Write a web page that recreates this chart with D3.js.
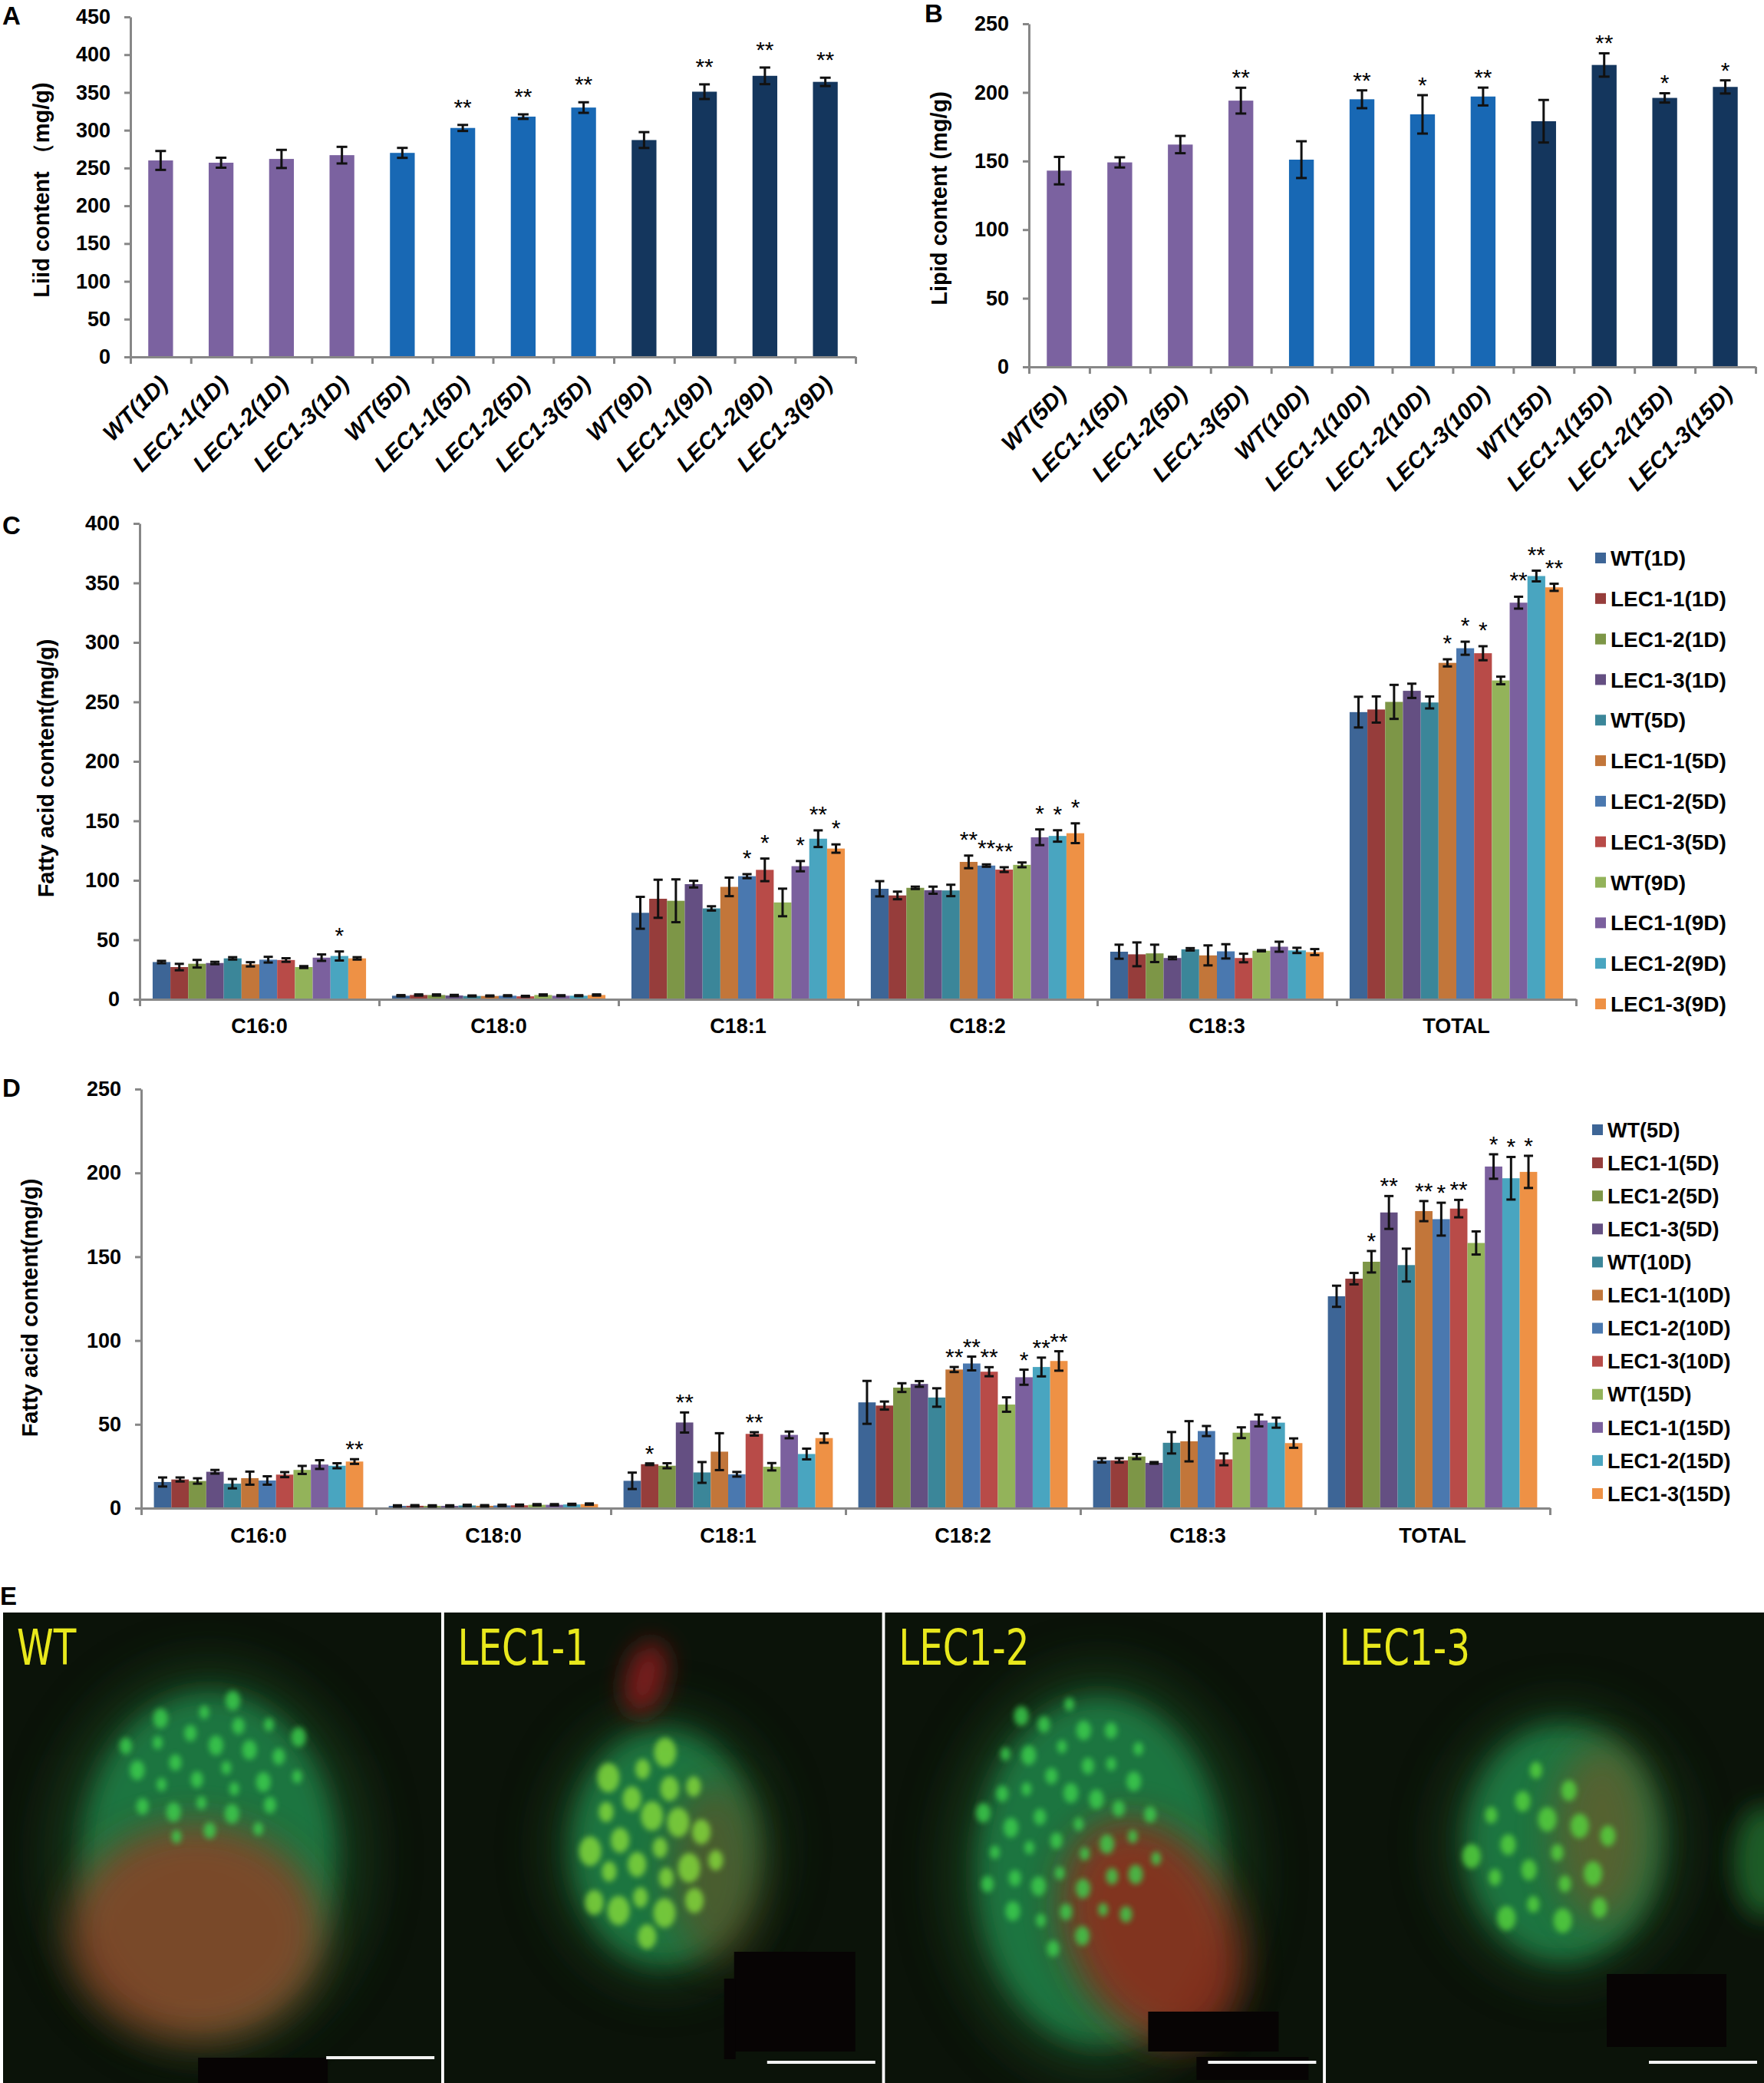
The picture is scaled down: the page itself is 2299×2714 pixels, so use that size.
<!DOCTYPE html>
<html>
<head>
<meta charset="utf-8">
<script src="https://cdn.jsdelivr.net/npm/d3@7"></script>
<style>
html, body { margin: 0; padding: 0; background: #fff; }
svg { display: block; }
</style>
</head>
<body>
<div id="fig"></div>
<script>
// ---------- data ----------
const barLabelsA = ["WT(1D)", "LEC1-1(1D)", "LEC1-2(1D)", "LEC1-3(1D)", "WT(5D)", "LEC1-1(5D)",
  "LEC1-2(5D)", "LEC1-3(5D)", "WT(9D)", "LEC1-1(9D)", "LEC1-2(9D)", "LEC1-3(9D)"];
const lipidA = [260, 257, 262, 267, 270, 303, 318, 330, 287, 351, 372, 364];
const lipidErrA = [12.5, 6.6, 12, 11, 6.6, 4, 3, 7, 10.5, 9.7, 11, 5.5];
const starsA = ["", "", "", "", "", "**", "**", "**", "", "**", "**", "**"];
const yTicksA = [0, 50, 100, 150, 200, 250, 300, 350, 400, 450];

const barLabelsB = ["WT(5D)", "LEC1-1(5D)", "LEC1-2(5D)", "LEC1-3(5D)", "WT(10D)", "LEC1-1(10D)",
  "LEC1-2(10D)", "LEC1-3(10D)", "WT(15D)", "LEC1-1(15D)", "LEC1-2(15D)", "LEC1-3(15D)"];
const lipidB = [143, 149, 162, 194, 151, 195, 184, 197, 179, 220, 196, 204];
const lipidErrB = [10, 3.7, 6.3, 9.4, 13.4, 6.5, 14, 6.5, 15.5, 8.5, 3.4, 4.8];
const starsB = ["", "", "", "**", "", "**", "*", "**", "", "**", "*", "*"];
const yTicksB = [0, 50, 100, 150, 200, 250];

const acids = ["C16:0", "C18:0", "C18:1", "C18:2", "C18:3", "TOTAL"];

const seriesC = ["WT(1D)", "LEC1-1(1D)", "LEC1-2(1D)", "LEC1-3(1D)", "WT(5D)", "LEC1-1(5D)",
  "LEC1-2(5D)", "LEC1-3(5D)", "WT(9D)", "LEC1-1(9D)", "LEC1-2(9D)", "LEC1-3(9D)"];
// one row per fatty acid, one column per series
const fattyC = [
  [31.3, 27.1, 29.9, 30.5, 34.4, 29.4, 33.3, 33.0, 27.1, 35.0, 36.4, 34.4],
  [3.0, 3.6, 3.6, 3.2, 2.8, 2.8, 3.0, 2.5, 3.6, 3.0, 3.0, 3.6],
  [72.7, 84.5, 82.8, 96.8, 76.4, 94.5, 103.5, 108.8, 81.4, 111.9, 135, 126.7],
  [92.9, 87.3, 93.7, 91.7, 91.5, 115.5, 112.4, 109, 113, 136.2, 137.3, 139.6],
  [40, 37.8, 38.6, 34.7, 42, 36.9, 40.3, 34.7, 40.8, 44.2, 41.1, 39.7],
  [241.4, 243.6, 250, 259.3, 249.5, 282.8, 295.1, 290.9, 268, 333.4, 355.8, 346.3]
];
const fattyErrC = [
  [1, 2.7, 3.2, 1, 1, 1.8, 2.4, 1.5, 0.8, 2.7, 3.8, 1],
  [0.5, 0.5, 0.5, 0.5, 0.4, 0.4, 0.4, 0.4, 0.5, 0.4, 0.4, 0.5],
  [13.4, 16, 18, 2.8, 1.8, 7.8, 1.7, 9.5, 11.6, 4.3, 7, 3.5],
  [6.4, 3.2, 1, 3, 4.8, 5.3, 1, 2, 2, 6.6, 4.8, 8.3],
  [5.9, 10, 7.3, 1, 1, 8.4, 6, 3.6, 0.5, 4.2, 2.2, 2.5],
  [12.9, 11, 14.3, 6, 5, 3, 5.5, 5.9, 3.2, 5, 4.5, 3]
];
const starsC = [
  ["", "", "", "", "", "", "", "", "", "", "*", ""],
  ["", "", "", "", "", "", "", "", "", "", "", ""],
  ["", "", "", "", "", "", "*", "*", "", "*", "**", "*"],
  ["", "", "", "", "", "**", "**", "**", "", "*", "*", "*"],
  ["", "", "", "", "", "", "", "", "", "", "", ""],
  ["", "", "", "", "", "*", "*", "*", "", "**", "**", "**"]
];
const yTicksC = [0, 50, 100, 150, 200, 250, 300, 350, 400];

const seriesD = ["WT(5D)", "LEC1-1(5D)", "LEC1-2(5D)", "LEC1-3(5D)", "WT(10D)", "LEC1-1(10D)",
  "LEC1-2(10D)", "LEC1-3(10D)", "WT(15D)", "LEC1-1(15D)", "LEC1-2(15D)", "LEC1-3(15D)"];
const fattyD = [
  [15.6, 17.1, 16.2, 21.7, 14.6, 17.9, 16.5, 20, 22.8, 26, 25.3, 27.8],
  [1.3, 1.4, 1.3, 1.3, 1.6, 1.4, 1.6, 1.7, 2.0, 2.0, 2.2, 2.4],
  [16.3, 26.2, 25.3, 51.1, 21.3, 33.7, 20.2, 44.3, 24.7, 43.7, 32.3, 41.8],
  [63.1, 61.2, 71.9, 74.1, 66, 82.7, 86.3, 81.4, 61.8, 78.1, 84.2, 87.8],
  [28.5, 28.5, 30.8, 27, 39, 39.9, 46, 29.1, 45, 52.3, 51, 38.8],
  [126.4, 136.9, 147, 176.4, 145, 177.2, 172.4, 178.7, 158.2, 203.8, 196.8, 200.6]
];
const fattyErrD = [
  [2.7, 1.2, 1.6, 1.1, 2.8, 3.9, 2.5, 1.5, 2.4, 2.6, 1.5, 1.4],
  [0.4, 0.4, 0.4, 0.4, 0.4, 0.4, 0.4, 0.4, 0.4, 0.4, 0.4, 0.4],
  [4.9, 0.5, 1.5, 6, 6.2, 11, 1.4, 1, 2.2, 2, 3.2, 2.8],
  [12.8, 2.4, 2.6, 1.7, 5.5, 1.5, 4.1, 2.7, 4.3, 4.5, 5.6, 5.8],
  [1.3, 1.3, 1.5, 0.5, 6.4, 12, 3, 3.5, 3.2, 3.5, 3, 2.8],
  [6.3, 3.4, 6.4, 9.8, 9.8, 6, 9.8, 5.2, 6.9, 7.3, 12.7, 9.6]
];
const starsD = [
  ["", "", "", "", "", "", "", "", "", "", "", "**"],
  ["", "", "", "", "", "", "", "", "", "", "", ""],
  ["", "*", "", "**", "", "", "", "**", "", "", "", ""],
  ["", "", "", "", "", "**", "**", "**", "", "*", "**", "**"],
  ["", "", "", "", "", "", "", "", "", "", "", ""],
  ["", "", "*", "**", "", "**", "*", "**", "", "*", "*", "*"]
];
const yTicksD = [0, 50, 100, 150, 200, 250];

const photoLabels = ["WT", "LEC1-1", "LEC1-2", "LEC1-3"];

// ---------- styles ----------
const groupColors = ["#7B62A0", "#1868B4", "#14365D"];
const seriesColors = ["#3D6596", "#963D3B", "#7D9647", "#644F82", "#3B8699", "#C2763A",
  "#4A78AF", "#B84B48", "#93B35A", "#7B609E", "#49A5C0", "#EE9145"];
const axisGrey = "#878787";
const font = "'Liberation Sans', Arial, Helvetica, sans-serif";

const svg = d3.select("#fig").append("svg")
  .attr("width", 2299)
  .attr("height", 2714)
  .attr("font-family", font);

function styleAxis(sel) {
  sel.attr("font-family", null).attr("font-size", null);
  sel.select(".domain").attr("stroke", axisGrey).attr("stroke-width", 3);
  sel.selectAll(".tick line").attr("stroke", axisGrey).attr("stroke-width", 3);
  sel.selectAll(".tick text")
    .attr("fill", "#000")
    .attr("font-size", 27)
    .attr("font-weight", "bold");
}

function errorBars(g, data, cx, y, capW) {
  const eg = g.append("g").attr("stroke", "#111").attr("stroke-width", 3);
  data.forEach(d => {
    const x = cx(d), top = y(d.v + d.e), bot = y(d.v - d.e);
    eg.append("line").attr("x1", x).attr("x2", x).attr("y1", top).attr("y2", bot);
    eg.append("line").attr("x1", x - capW / 2).attr("x2", x + capW / 2).attr("y1", top).attr("y2", top);
    eg.append("line").attr("x1", x - capW / 2).attr("x2", x + capW / 2).attr("y1", bot).attr("y2", bot);
  });
}

function stars(g, data, cx, y, gap) {
  g.selectAll("text.star").data(data.filter(d => d.st)).join("text")
    .attr("class", "star")
    .attr("x", d => cx(d))
    .attr("y", d => y(d.v + d.e) - gap + 13)
    .attr("text-anchor", "middle")
    .attr("font-size", 30)
    .text(d => d.st);
}

function yTitle(g, text, x, cy) {
  g.append("text")
    .attr("transform", `translate(${x},${cy}) rotate(-90)`)
    .attr("text-anchor", "middle")
    .attr("dy", "0.35em")
    .attr("font-size", 29)
    .attr("font-weight", "bold")
    .text(text);
}

function panelLetter(t, x, y) {
  svg.append("text").attr("x", x).attr("y", y)
    .attr("font-size", 33).attr("font-weight", "bold").text(t);
}

// ---------- A and B: single bars ----------
function drawSimple(c) {
  const g = svg.append("g");
  const x = d3.scaleBand().domain(c.labels).range([c.x0, c.x1]).paddingInner(0.59).paddingOuter(0.295);
  const y = d3.scaleLinear().domain([0, c.max]).range([c.yBase, c.yTop]);
  const xb = d3.scaleLinear().domain([0, c.labels.length]).range([c.x0, c.x1]);

  const data = c.labels.map((l, i) => ({ l, i, v: c.values[i], e: c.errs[i], st: c.stars[i] }));
  const cx = d => x(d.l) + x.bandwidth() / 2;

  g.selectAll("rect.bar").data(data).join("rect")
    .attr("class", "bar")
    .attr("x", d => x(d.l))
    .attr("width", x.bandwidth())
    .attr("y", d => y(d.v))
    .attr("height", d => c.yBase - y(d.v))
    .attr("fill", d => groupColors[Math.floor(d.i / 4)]);

  g.append("g").attr("transform", `translate(0,${c.yBase})`)
    .call(d3.axisBottom(xb).tickValues(d3.range(c.labels.length + 1)).tickSize(9).tickSizeOuter(0).tickFormat(""))
    .call(styleAxis);
  g.append("g").attr("transform", `translate(${c.x0},0)`)
    .call(d3.axisLeft(y).tickValues(c.ticks).tickSize(8).tickSizeOuter(0).tickPadding(18))
    .call(styleAxis);

  errorBars(g, data, cx, y, 14);
  stars(g, data, cx, y, c.starGap);

  g.selectAll("text.xl").data(data).join("text")
    .attr("class", "xl")
    .attr("transform", d => `translate(${cx(d) - 4},${c.yBase + 22}) rotate(-45)`)
    .attr("text-anchor", "end")
    .attr("dy", "0.72em")
    .attr("font-size", 30)
    .attr("font-weight", "bold")
    .attr("font-style", "italic")
    .text(d => d.l);

  yTitle(g, c.title, c.titleX, (c.yTop + c.yBase) / 2 + 4);
}

drawSimple({
  labels: barLabelsA, values: lipidA, errs: lipidErrA, stars: starsA, ticks: yTicksA, max: 450,
  x0: 170, x1: 1115, yTop: 22, yBase: 465, starGap: 26,
  title: "Liid content （mg/g)", titleX: 54
});
drawSimple({
  labels: barLabelsB, values: lipidB, errs: lipidErrB, stars: starsB, ticks: yTicksB, max: 250,
  x0: 1341, x1: 2288, yTop: 31, yBase: 478, starGap: 16,
  title: "Lipid content (mg/g)", titleX: 1224
});
panelLetter("A", 3, 32);
panelLetter("B", 1205, 29);

// ---------- C and D: grouped bars ----------
function drawGrouped(c) {
  const g = svg.append("g");
  const x0 = d3.scaleBand().domain(acids).range([c.x0, c.x1]);
  const x1 = d3.scaleBand().domain(c.series).range([0, x0.bandwidth()]).paddingOuter(0.73);
  const y = d3.scaleLinear().domain([0, c.max]).range([c.yBase, c.yTop]);
  const xb = d3.scaleLinear().domain([0, acids.length]).range([c.x0, c.x1]);

  const data = acids.flatMap((a, ai) => c.series.map((s, si) => ({
    a, s, si, v: c.values[ai][si], e: c.errs[ai][si], st: c.stars[ai][si]
  })));
  const cx = d => x0(d.a) + x1(d.s) + x1.bandwidth() / 2;

  g.selectAll("rect.bar").data(data).join("rect")
    .attr("class", "bar")
    .attr("x", d => x0(d.a) + x1(d.s))
    .attr("width", x1.bandwidth())
    .attr("y", d => y(d.v))
    .attr("height", d => c.yBase - y(d.v))
    .attr("fill", d => seriesColors[d.si]);

  g.append("g").attr("transform", `translate(0,${c.yBase})`)
    .call(d3.axisBottom(xb).tickValues(d3.range(acids.length + 1)).tickSize(9).tickSizeOuter(0).tickFormat(""))
    .call(styleAxis);
  g.append("g").attr("transform", `translate(${c.x0},0)`)
    .call(d3.axisLeft(y).tickValues(c.ticks).tickSize(8).tickSizeOuter(0).tickPadding(18))
    .call(styleAxis);

  errorBars(g, data, cx, y, 12);
  stars(g, data, cx, y, c.starGap);

  g.selectAll("text.cat").data(acids).join("text")
    .attr("class", "cat")
    .attr("x", a => x0(a) + x0.bandwidth() / 2)
    .attr("y", c.catY)
    .attr("text-anchor", "middle")
    .attr("font-size", 27)
    .attr("font-weight", "bold")
    .text(a => a);

  const ly = d3.scalePoint().domain(c.series).range(c.legendY);
  const lg = g.append("g");
  lg.selectAll("rect").data(c.series).join("rect")
    .attr("x", c.legendX)
    .attr("y", s => ly(s) - 7)
    .attr("width", 14)
    .attr("height", 14)
    .attr("fill", (s, i) => seriesColors[i]);
  lg.selectAll("text").data(c.series).join("text")
    .attr("x", c.legendX + 20)
    .attr("y", s => ly(s))
    .attr("dy", "0.36em")
    .attr("font-size", c.legendFont)
    .attr("font-weight", "bold")
    .text(s => s);

  yTitle(g, "Fatty acid content(mg/g)", c.titleX, c.titleY);
}

drawGrouped({
  series: seriesC, values: fattyC, errs: fattyErrC, stars: starsC, ticks: yTicksC, max: 400,
  x0: 182, x1: 2054, yTop: 682, yBase: 1302, starGap: 24, catY: 1346,
  legendX: 2079, legendY: [727, 1308], legendFont: 28,
  titleX: 60, titleY: 1001
});
drawGrouped({
  series: seriesD, values: fattyD, errs: fattyErrD, stars: starsD, ticks: yTicksD, max: 250,
  x0: 184, x1: 2020, yTop: 1419, yBase: 1965, starGap: 16, catY: 2010,
  legendX: 2075, legendY: [1472, 1946], legendFont: 27,
  titleX: 39, titleY: 1704
});
panelLetter("C", 3, 696);
panelLetter("D", 3, 1429);

// ---------- E: fluorescence micrographs (approximated) ----------
panelLetter("E", 0, 2091);

const defs = svg.append("defs");
[["blurBig", 30], ["blurMid", 16], ["blurRed", 24], ["blurSmall", 3.5]].forEach(([id, s]) => {
  defs.append("filter").attr("id", id)
    .attr("x", "-60%").attr("y", "-60%").attr("width", "220%").attr("height", "220%")
    .append("feGaussianBlur").attr("stdDeviation", s);
});

// relative geometry of each imaged cell (fractions of the photo panel)
const cells = [
  { body: [0.47, 0.52, 0.29, 0.35], tint: [[0.44, 0.68, 0.29, 0.23, 0, "#8a4226", 0.85]],
    drops: [0.48, 0.33, 0.22, 0.16, 28, 8, "#3ed24e"], extra: [] },
  { body: [0.50, 0.50, 0.21, 0.25], tint: [[0.62, 0.55, 0.10, 0.19, 0, "#6e4a22", 0.55]],
    drops: [0.47, 0.50, 0.16, 0.21, 24, 12, "#86dc3a"],
    extra: [[0.46, 0.14, 0.045, 0.08, 15, "#7e1d1d"]] },
  { body: [0.49, 0.55, 0.28, 0.37], tint: [[0.61, 0.68, 0.19, 0.25, -25, "#8c2f1f", 0.9]],
    drops: [0.42, 0.45, 0.21, 0.28, 44, 8, "#3ed24e"], extra: [] },
  { body: [0.54, 0.49, 0.22, 0.25], tint: [[0.63, 0.47, 0.11, 0.19, 0, "#6d5a2b", 0.7]],
    drops: [0.50, 0.51, 0.17, 0.19, 18, 10, "#56d63c"],
    extra: [[1.0, 0.53, 0.07, 0.12, 0, "#1a5c28"]] }
];
// masked (blacked-out) areas relative to panel right/bottom edge, in px
const masks = [
  [[-317, -33, 169, 33]],
  [[-193, -171, 158, 130], [-206, -136, 15, 105]],
  [[-228, -93, 170, 52], [-165, -34, 146, 30]],
  [[-205, -142, 156, 95]]
];

const photoX = d3.scaleBand().domain(photoLabels).range([4, 2299]).paddingInner(0.006);
const photoY = d3.scaleLinear().domain([0, 1]).range([2101, 2714]);
const ph = photoY(1) - photoY(0);

photoLabels.forEach((lab, k) => {
  const px = photoX(lab), pw = photoX.bandwidth();
  const fx = d3.scaleLinear().domain([0, 1]).range([px, px + pw]);
  const cell = cells[k];
  defs.append("clipPath").attr("id", "clip" + k)
    .append("rect").attr("x", px).attr("y", photoY(0)).attr("width", pw).attr("height", ph);
  const g = svg.append("g").attr("clip-path", `url(#clip${k})`);
  g.append("rect").attr("x", px).attr("y", photoY(0)).attr("width", pw).attr("height", ph).attr("fill", "#0b1309");

  const [bx, by, brx, bry] = cell.body;
  g.append("ellipse")
    .attr("cx", fx(bx)).attr("cy", photoY(by)).attr("rx", brx * pw * 1.3).attr("ry", bry * ph * 1.2)
    .attr("fill", "#1a4a22").attr("opacity", 0.55).attr("filter", "url(#blurBig)");
  g.append("ellipse")
    .attr("cx", fx(bx)).attr("cy", photoY(by)).attr("rx", brx * pw).attr("ry", bry * ph)
    .attr("fill", "#1d7440").attr("filter", "url(#blurMid)");
  cell.tint.forEach(([tx, ty, trx, tr_y, rot, col, op]) => {
    g.append("ellipse")
      .attr("transform", `rotate(${rot},${fx(tx)},${photoY(ty)})`)
      .attr("cx", fx(tx)).attr("cy", photoY(ty)).attr("rx", trx * pw).attr("ry", tr_y * ph)
      .attr("fill", col).attr("opacity", op).attr("filter", "url(#blurRed)");
  });
  cell.extra.forEach(([tx, ty, trx, tr_y, rot, col]) => {
    g.append("ellipse")
      .attr("transform", `rotate(${rot},${fx(tx)},${photoY(ty)})`)
      .attr("cx", fx(tx)).attr("cy", photoY(ty)).attr("rx", trx * pw).attr("ry", tr_y * ph)
      .attr("fill", col).attr("filter", "url(#blurMid)");
  });
  // lipid droplets laid out on a sunflower spiral inside the green region
  const [dx, dy, drx, dry, n, size, dcol] = cell.drops;
  const drops = d3.range(n).map(i => {
    const r = Math.sqrt((i + 0.5) / n), t = i * 2.39996;
    return [fx(dx) + r * drx * pw * Math.cos(t), photoY(dy) + r * dry * ph * Math.sin(t), i % 3];
  });
  g.selectAll("ellipse.drop").data(drops).join("ellipse")
    .attr("class", "drop")
    .attr("cx", d => d[0]).attr("cy", d => d[1])
    .attr("rx", d => size * (0.8 + 0.2 * d[2])).attr("ry", d => size * (1.1 + 0.25 * d[2]))
    .attr("fill", dcol).attr("opacity", 0.8).attr("filter", "url(#blurSmall)");

  masks[k].forEach(([mx, my, mw, mh]) => {
    g.append("rect").attr("x", px + pw + mx).attr("y", photoY(1) + my).attr("width", mw).attr("height", mh)
      .attr("fill", "#070404");
  });
  const sy = photoY(1) - (k === 0 ? 33 : 27);
  g.append("line")
    .attr("x1", px + pw - 150).attr("x2", px + pw - 9)
    .attr("y1", sy).attr("y2", sy)
    .attr("stroke", "#f2f2f2").attr("stroke-width", 4);

  const t = svg.append("text")
    .attr("x", px + 18).attr("y", photoY(0) + 68)
    .attr("font-family", "'Liberation Sans Narrow', 'DejaVu Sans Condensed', 'Arial Narrow', sans-serif")
    .attr("font-size", 64)
    .attr("fill", "#e8e81c")
    .text(lab);
  // the original lettering is condensed; squeeze to match
  const w = t.node().getComputedTextLength();
  t.attr("textLength", w * 0.84).attr("lengthAdjust", "spacingAndGlyphs");
});
</script>
</body>
</html>
